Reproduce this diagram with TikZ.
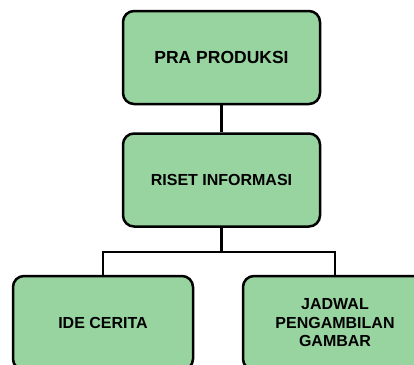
\documentclass[tikz,border=0pt]{standalone}
\usepackage{fontspec}
\setmainfont{Liberation Sans}
\definecolor{boxgreen}{RGB}{152,212,160}
\begin{document}
\begin{tikzpicture}[x=1pt,y=-1pt,
  box/.style={draw=black,line width=2.5pt,fill=boxgreen,rounded corners=11pt,
    align=center,font=\fontsize{16}{18.5}\selectfont\bfseries,inner sep=0pt},
  link/.style={line width=2.6pt,draw=black}]
\useasboundingbox (0,0) rectangle (414,364);
\clip (0,0) rectangle (414,364);
\node[box,minimum width=197pt,minimum height=93pt,font=\fontsize{17.5}{20}\selectfont\bfseries] (pra) at (221.5,57.5) {PRA PRODUKSI};
\node[box,minimum width=197pt,minimum height=93pt] (riset) at (221.5,180) {RISET INFORMASI};
\node[box,minimum width=180pt,minimum height=94pt] (ide) at (103,323) {IDE CERITA};
\node[box,minimum width=184pt,minimum height=94pt] (jadwal) at (335,323) {JADWAL\\PENGAMBILAN\\GAMBAR};
\coordinate (split) at (221.5,252);
\draw[link] (pra.south) -- (riset.north);
\draw[link] (riset.south) -- (split);
\draw[link] (ide.north) |- (split) -| (jadwal.north);
\end{tikzpicture}
\end{document}
